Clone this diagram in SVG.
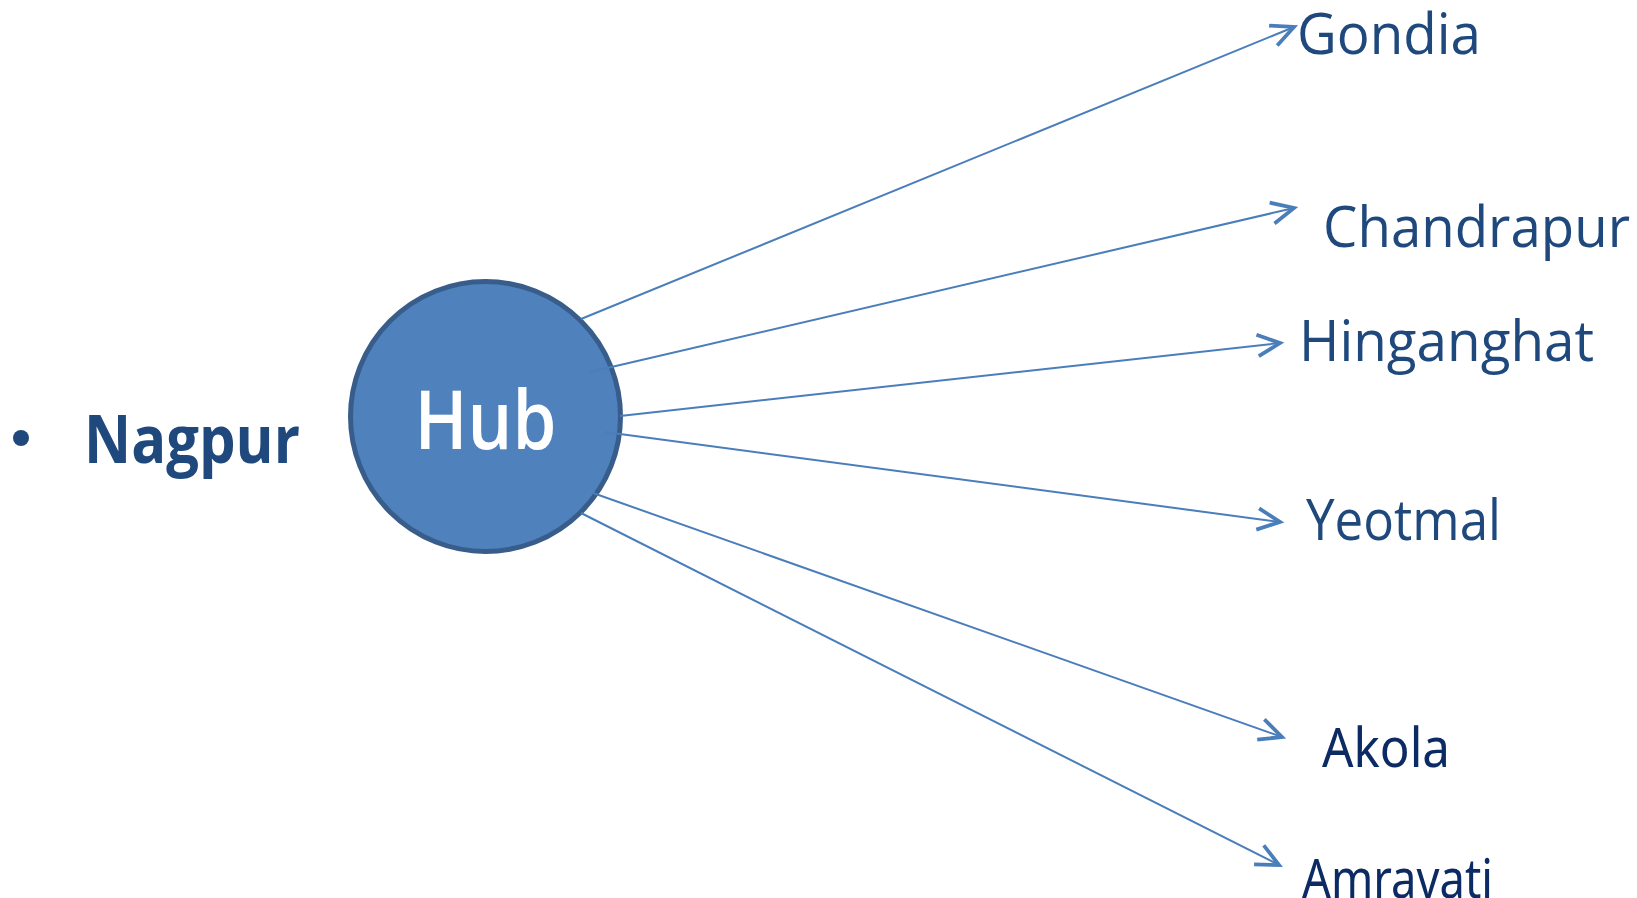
<svg xmlns="http://www.w3.org/2000/svg" width="1637" height="898" viewBox="0 0 1637 898">
<style>
.lbl{font-family:"Open Sans","Noto Sans",sans-serif;font-size:56px;fill:#1f497d}
.lbl2{font-family:"Noto Sans","Open Sans",sans-serif;font-size:55px;fill:#0c2a63}
.conn{stroke:#4a7ebb;stroke-width:2;fill:none;marker-end:url(#arr)}
</style>
<defs>
<marker id="arr" markerUnits="userSpaceOnUse" markerWidth="30" markerHeight="30" viewBox="-24 -13 28 26" refX="0" refY="0" orient="auto" overflow="visible">
<path d="M-21,-10 L0,0 L-21,10" fill="none" stroke="#4a7ebb" stroke-width="3.5"/>
</marker>
</defs>
<rect width="1637" height="898" fill="#ffffff"/>
<g id="nagpur">
<circle cx="21" cy="438" r="8" fill="#1f497d"/>
<text x="84" y="463" font-family="'Open Sans','Noto Sans',sans-serif" font-size="66" font-weight="bold" fill="#1f497d" textLength="216" lengthAdjust="spacingAndGlyphs">Nagpur</text>
</g>
<g id="hub">
<circle cx="485.5" cy="416.5" r="135" fill="#4f81bd" stroke="#385d8a" stroke-width="5"/>
<text x="485.5" y="449" text-anchor="middle" font-family="'Open Sans','Noto Sans',sans-serif" font-size="81" font-weight="600" fill="#ffffff" textLength="142" lengthAdjust="spacingAndGlyphs">Hub</text>
</g>
<g id="connectors">
<line class="conn" x1="581" y1="319" x2="1294" y2="27"/>
<line class="conn" x1="590" y1="372" x2="1294" y2="208"/>
<line class="conn" x1="620" y1="416" x2="1280" y2="343"/>
<line class="conn" x1="605" y1="432" x2="1280" y2="522"/>
<line class="conn" x1="593" y1="493" x2="1282" y2="737"/>
<line class="conn" x1="581" y1="513" x2="1279" y2="865"/>
</g>
<g id="gondia"><text class="lbl" x="1297" y="54" textLength="184" lengthAdjust="spacingAndGlyphs">Gondia</text></g>
<g id="chandrapur"><text class="lbl" x="1323" y="247" textLength="307" lengthAdjust="spacingAndGlyphs">Chandrapur</text></g>
<g id="hinganghat"><text class="lbl" x="1299" y="361" textLength="295" lengthAdjust="spacingAndGlyphs">Hinganghat</text></g>
<g id="yeotmal"><text class="lbl" x="1306" y="540" textLength="195" lengthAdjust="spacingAndGlyphs">Yeotmal</text></g>
<g id="akola"><text class="lbl2" x="1322" y="767" textLength="128" lengthAdjust="spacingAndGlyphs">Akola</text></g>
<g id="amravati"><text class="lbl2" x="1302" y="898" textLength="191" lengthAdjust="spacingAndGlyphs">Amravati</text></g>
</svg>
